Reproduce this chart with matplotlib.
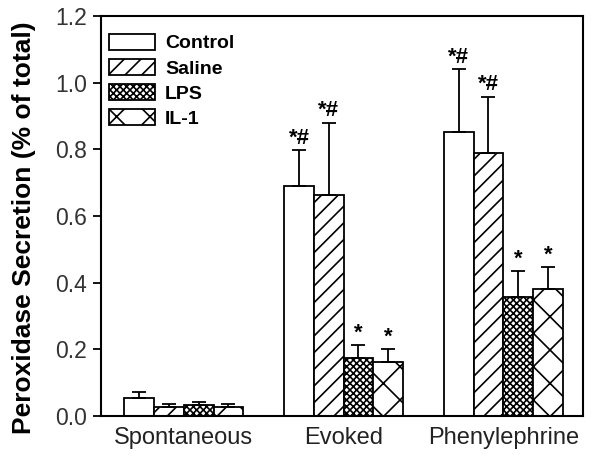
import numpy as np
import matplotlib
matplotlib.use('Agg')
import matplotlib.pyplot as plt

plt.rcParams['font.family'] = ['Liberation Sans', 'DejaVu Sans']
plt.rcParams['hatch.linewidth'] = 1.2

# dados
grupos = ['Spontaneous', 'Evoked', 'Phenylephrine']
series = ['Control', 'Saline', 'LPS', 'IL-1']
medias = {
    'Control': [0.054, 0.690, 0.853],
    'Saline': [0.028, 0.663, 0.789],
    'LPS': [0.032, 0.175, 0.357],
    'IL-1': [0.028, 0.162, 0.381],
}
erros = {
    'Control': [0.018, 0.108, 0.188],
    'Saline': [0.008, 0.217, 0.169],
    'LPS': [0.010, 0.038, 0.079],
    'IL-1': [0.008, 0.038, 0.067],
}
marcas = {
    'Control': ['', '*#', '*#'],
    'Saline': ['', '*#', '*#'],
    'LPS': ['', '*', '*'],
    'IL-1': ['', '*', '*'],
}
hachuras = {'Control': '', 'Saline': '//', 'LPS': 'xxxxx', 'IL-1': 'x'}

fig = plt.figure(figsize=(6, 4.62), dpi=100)
ax = fig.add_axes([0.168, 0.0996, 0.804, 0.866])

x = np.arange(len(grupos))
largura = 0.186
for i, s in enumerate(series):
    pos = x + (i - 1.5) * largura
    ax.bar(pos, medias[s], largura, color='white', edgecolor='black',
           hatch=hachuras[s], linewidth=1.3, label=s,
           yerr=[np.zeros(3), erros[s]], capsize=5,
           error_kw=dict(ecolor='black', elinewidth=1.3, capthick=1.3))
    for p, m, e, t in zip(pos, medias[s], erros[s], marcas[s]):
        if t:
            ax.annotate(t, (p, m + e), xytext=(0, 1), textcoords='offset points',
                        ha='center', va='bottom', fontsize=16, fontweight='bold')

ax.set_xlim(-0.52, 2.5)
ax.set_ylim(0, 1.2)
ax.set_yticks(np.arange(0, 1.21, 0.2))
ax.set_yticklabels(['%.1f' % v for v in np.arange(0, 1.21, 0.2)], fontsize=16.5, color='#333333')
ax.set_xticks(x)
ax.set_xticklabels(grupos, fontsize=17, color='#222222')
ax.tick_params(axis='x', length=0, pad=8)
ax.tick_params(axis='y', length=6, width=1.3, pad=4)
for sp in ax.spines.values():
    sp.set_linewidth(1.5)

ax.set_ylabel('Peroxidase Secretion (% of total)', fontsize=19, fontweight='bold')
ax.yaxis.set_label_coords(-0.135, 0.47)

leg = ax.legend(loc='upper left', frameon=False, prop=dict(weight='bold', size=14),
                handlelength=2.4, handleheight=0.9, labelspacing=0.33,
                bbox_to_anchor=(0.0, 0.975), borderaxespad=0.2, borderpad=0.2,
                handletextpad=0.5)

plt.savefig('out.png', dpi=100)
